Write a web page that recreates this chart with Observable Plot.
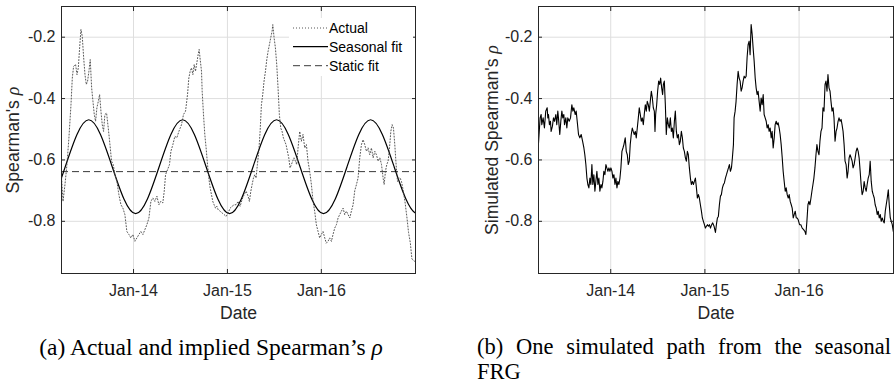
<!DOCTYPE html>
<html><head><meta charset="utf-8">
<script src="https://cdn.jsdelivr.net/npm/d3@7"></script>
<script src="https://cdn.jsdelivr.net/npm/@observablehq/plot@0.6"></script>
<style>
html,body{margin:0;padding:0;background:#fff;overflow:hidden;}
#wrap{position:relative;width:894px;height:384px;overflow:hidden;font-family:"Liberation Sans",Arial,sans-serif;}
.panel{position:absolute;top:0;}
.cap{position:absolute;font-family:"Liberation Serif",serif;font-size:23.5px;line-height:26px;color:#000;white-space:nowrap;}
.legend{position:absolute;background:#fff;}
</style></head><body><div id="wrap"></div>
<script>
// ---------- data ----------
const xTickYears = [2014, 2015, 2016];
const xTickLabels = ["Jan-14", "Jan-15", "Jan-16"];
const yTicks = [-0.8, -0.6, -0.4, -0.2];
const yTickLabels = ["-0.8", "-0.6", "-0.4", "-0.2"];
const xDomainYears = [2013.233, 2017.0];
const yDomain = [-0.97, -0.1];
const xAxisTitle = "Date";
const yTitleLeft = "Spearman's ρ";
const yTitleRight = "Simulated Spearman's ρ";
const legendLabels = ["Actual", "Seasonal fit", "Static fit"];

const staticFit = -0.638;

const seasonalYears = [2012.773, 2013.023, 2013.273, 2013.523, 2013.773, 2014.023, 2014.273, 2014.523, 2014.773, 2015.023, 2015.273, 2015.523, 2015.773, 2016.023, 2016.273, 2016.523, 2016.773, 2017.023, 2017.273];
const seasonalValues = [-0.622, -0.775, -0.622, -0.469, -0.622, -0.775, -0.622, -0.469, -0.622, -0.775, -0.622, -0.469, -0.622, -0.775, -0.622, -0.469, -0.622, -0.775, -0.622];

const actualYears = [
2013.234,2013.249,2013.270,2013.291,2013.312,2013.334,2013.348,2013.362,2013.383,2013.398,2013.412,2013.426,2013.440,2013.454,2013.469,2013.483,2013.497,2013.511,2013.525,2013.539,2013.554,2013.568,2013.582,2013.596,2013.610,2013.625,2013.639,2013.653,2013.667,2013.681,2013.695,2013.713,2013.731,2013.749,2013.766,2013.784,2013.802,2013.823,2013.844,2013.866,2013.887,2013.908,2013.929,2013.951,2013.972,2013.993,2014.015,2014.036,2014.057,2014.078,2014.100,2014.121,2014.142,2014.164,2014.185,2014.206,2014.227,2014.249,2014.270,2014.291,2014.312,2014.327,2014.341,2014.362,2014.383,2014.398,2014.419,2014.440,2014.461,2014.483,
2014.511,2014.532,2014.554,2014.575,2014.589,2014.603,2014.617,2014.632,2014.646,2014.660,2014.674,2014.688,2014.699,2014.710,2014.724,2014.731,2014.745,2014.759,2014.773,2014.788,2014.802,2014.816,2014.830,2014.844,2014.858,2014.873,2014.887,2014.901,2014.922,2014.944,2014.965,2014.986,2015.007,2015.029,2015.050,2015.071,2015.092,2015.114,2015.135,2015.156,2015.178,2015.199,2015.220,2015.234,2015.249,2015.263,2015.277,2015.291,2015.305,2015.319,2015.334,2015.348,2015.362,2015.376,2015.390,2015.405,2015.419,2015.433,2015.447,2015.461,2015.476,2015.483,2015.497,2015.511,2015.525,2015.539,2015.553,2015.568,2015.582,2015.596,2015.610,2015.624,2015.639,2015.653,2015.667,2015.681,2015.695,2015.709,2015.724,2015.738,2015.752,
2015.770,2015.787,2015.805,2015.823,2015.841,2015.858,2015.876,2015.894,2015.912,2015.929,2015.947,2015.965,2015.982,2016.000,2016.018,2016.036,2016.053,2016.071,2016.089,2016.107,2016.124,2016.142,2016.160,2016.178,2016.195,2016.213,2016.231,2016.248,2016.266,2016.284,2016.302,2016.319,2016.337,2016.355,2016.373,2016.390,2016.408,2016.426,2016.443,2016.461,2016.479,2016.497,2016.514,2016.532,2016.550,2016.568,2016.585,2016.603,2016.621,2016.639,2016.656,2016.667,2016.681,2016.695,2016.709,2016.724,2016.738,2016.752,2016.766,2016.780,2016.794,2016.809,2016.823,2016.837,2016.851,2016.870,2016.890,2016.910,2016.926,2016.945,2016.962,2016.990];
const actualValues = [
-0.659,-0.735,-0.680,-0.615,-0.528,-0.420,-0.333,-0.295,-0.289,-0.322,-0.300,-0.235,-0.175,-0.197,-0.267,-0.322,-0.354,-0.343,-0.311,-0.273,-0.365,-0.409,-0.452,-0.474,-0.430,-0.409,-0.387,-0.441,-0.485,-0.507,-0.452,-0.447,-0.496,-0.550,-0.604,-0.615,-0.648,-0.670,-0.713,-0.746,-0.757,-0.778,-0.833,-0.843,-0.854,-0.843,-0.865,-0.854,-0.843,-0.833,-0.843,-0.827,-0.811,-0.789,-0.735,-0.724,-0.735,-0.718,-0.746,-0.735,-0.740,-0.702,-0.648,-0.632,-0.615,-0.572,-0.550,-0.523,-0.528,-0.507,
-0.485,-0.452,-0.441,-0.387,-0.333,-0.311,-0.300,-0.322,-0.289,-0.311,-0.284,-0.257,-0.240,-0.273,-0.311,-0.376,-0.452,-0.517,-0.561,-0.615,-0.659,-0.691,-0.713,-0.735,-0.746,-0.757,-0.751,-0.762,-0.767,-0.773,-0.778,-0.784,-0.773,-0.757,-0.751,-0.746,-0.746,-0.735,-0.751,-0.729,-0.713,-0.702,-0.718,-0.735,-0.702,-0.680,-0.659,-0.648,-0.659,-0.615,-0.572,-0.507,-0.420,-0.387,-0.343,-0.311,-0.273,-0.246,-0.224,-0.202,-0.180,-0.159,-0.202,-0.235,-0.289,-0.365,-0.452,-0.496,-0.507,-0.528,-0.539,-0.550,-0.572,-0.593,-0.626,-0.615,-0.604,-0.593,-0.604,-0.615,-0.561,
-0.507,-0.539,-0.517,-0.561,-0.550,-0.604,-0.637,-0.680,-0.735,-0.767,-0.811,-0.833,-0.854,-0.843,-0.833,-0.854,-0.871,-0.865,-0.854,-0.865,-0.843,-0.822,-0.811,-0.789,-0.778,-0.767,-0.757,-0.778,-0.767,-0.778,-0.789,-0.767,-0.746,-0.700,-0.680,-0.659,-0.593,-0.550,-0.534,-0.550,-0.572,-0.561,-0.583,-0.561,-0.593,-0.572,-0.583,-0.604,-0.593,-0.615,-0.659,-0.680,-0.637,-0.615,-0.604,-0.561,-0.507,-0.485,-0.496,-0.550,-0.615,-0.670,-0.659,-0.659,-0.670,-0.700,-0.740,-0.790,-0.836,-0.870,-0.923,-0.930];

const simYears = [
2013.232,2013.250,2013.261,2013.268,2013.282,2013.296,2013.310,2013.325,2013.332,2013.339,2013.349,2013.360,2013.367,2013.381,2013.392,2013.403,2013.417,2013.427,2013.438,2013.445,2013.459,2013.470,2013.481,2013.491,2013.502,2013.509,2013.523,2013.534,2013.544,2013.559,2013.573,2013.587,2013.598,2013.608,2013.623,2013.633,2013.644,2013.658,2013.672,2013.686,2013.701,2013.715,2013.725,2013.736,2013.747,2013.757,2013.768,2013.779,2013.789,2013.800,2013.810,2013.821,2013.832,2013.842,2013.853,2013.864,2013.874,2013.885,2013.896,2013.906,2013.917,2013.927,2013.938,2013.949,2013.959,2013.970,2013.981,2013.991,2014.002,2014.013,2014.023,2014.034,2014.045,2014.055,2014.066,2014.076,2014.087,2014.098,2014.108,2014.119,2014.130,2014.140,
2014.154,2014.165,2014.176,2014.186,2014.197,2014.207,2014.218,2014.229,2014.239,2014.250,2014.261,2014.271,2014.282,2014.293,2014.303,2014.314,2014.324,2014.335,2014.346,2014.356,2014.367,2014.378,2014.388,2014.399,2014.410,2014.420,2014.431,2014.442,2014.452,2014.463,2014.470,2014.477,2014.488,2014.498,2014.509,2014.520,2014.530,2014.541,2014.551,2014.559,2014.569,2014.580,2014.590,2014.601,2014.612,2014.622,2014.633,2014.644,2014.654,2014.665,2014.676,2014.686,2014.697,2014.707,2014.718,2014.729,2014.739,2014.750,2014.761,2014.771,2014.782,2014.793,2014.803,2014.814,2014.824,2014.835,2014.846,2014.856,2014.867,2014.878,2014.888,2014.899,2014.910,2014.920,2014.931,2014.941,2014.952,2014.963,2014.973,2014.984,2014.995,2015.005,2015.016,2015.027,2015.037,2015.048,2015.059,2015.069,
2015.083,2015.097,2015.112,2015.122,2015.133,2015.143,2015.154,2015.165,2015.175,2015.186,2015.197,2015.207,2015.218,2015.229,2015.239,2015.250,2015.260,2015.271,2015.282,2015.292,2015.303,2015.310,2015.321,2015.331,2015.342,2015.353,2015.363,2015.374,2015.385,2015.395,2015.406,2015.417,2015.427,2015.438,2015.448,2015.459,2015.470,2015.480,2015.491,2015.502,2015.512,2015.523,2015.534,2015.544,2015.555,2015.565,2015.576,2015.587,2015.597,2015.608,2015.619,2015.629,2015.640,2015.651,2015.661,2015.672,2015.682,2015.693,2015.704,2015.714,2015.725,2015.736,2015.746,2015.757,2015.768,2015.778,2015.789,2015.799,2015.810,2015.821,2015.831,2015.842,2015.853,2015.863,2015.874,2015.885,2015.895,2015.906,2015.917,2015.927,2015.938,2015.948,2015.959,2015.970,2015.980,2015.991,2016.005,
2016.019,2016.033,2016.048,2016.062,2016.072,2016.083,2016.094,2016.104,2016.115,2016.126,2016.136,2016.147,2016.157,2016.168,2016.179,2016.189,2016.200,2016.211,2016.221,2016.232,2016.243,2016.253,2016.264,2016.275,2016.285,2016.296,2016.306,2016.317,2016.328,2016.338,2016.349,2016.360,2016.370,2016.381,2016.392,2016.402,2016.413,2016.423,2016.434,2016.445,2016.455,2016.466,2016.477,2016.487,2016.498,2016.509,2016.519,2016.530,2016.540,2016.551,2016.562,2016.572,2016.583,2016.594,2016.604,2016.615,2016.626,2016.636,2016.647,2016.657,2016.668,2016.679,2016.689,2016.700,2016.711,2016.721,2016.732,2016.743,2016.753,2016.764,2016.775,2016.785,2016.796,2016.806,2016.817,2016.828,2016.838,2016.849,2016.860,2016.870,2016.881,2016.892,2016.902,2016.913,2016.923,2016.934,2016.945,2016.955,2016.966,2016.977,2016.987,2016.998];
const simValues = [
-0.550,-0.463,-0.452,-0.485,-0.463,-0.496,-0.441,-0.430,-0.463,-0.452,-0.485,-0.474,-0.507,-0.490,-0.463,-0.474,-0.452,-0.485,-0.441,-0.463,-0.517,-0.474,-0.441,-0.463,-0.452,-0.485,-0.463,-0.496,-0.463,-0.474,-0.463,-0.420,-0.441,-0.430,-0.452,-0.441,-0.474,-0.517,-0.528,-0.517,-0.539,-0.561,-0.583,-0.615,-0.659,-0.680,-0.691,-0.659,-0.680,-0.615,-0.680,-0.648,-0.702,-0.670,-0.637,-0.680,-0.659,-0.702,-0.680,-0.691,-0.670,-0.637,-0.648,-0.615,-0.626,-0.637,-0.626,-0.637,-0.626,-0.637,-0.659,-0.648,-0.680,-0.659,-0.691,-0.670,-0.680,-0.659,-0.626,-0.572,-0.561,-0.550,
-0.528,-0.572,-0.583,-0.615,-0.604,-0.550,-0.517,-0.496,-0.507,-0.517,-0.507,-0.528,-0.496,-0.463,-0.430,-0.452,-0.474,-0.463,-0.485,-0.452,-0.420,-0.441,-0.409,-0.420,-0.441,-0.409,-0.376,-0.398,-0.430,-0.441,-0.507,-0.452,-0.420,-0.376,-0.343,-0.354,-0.333,-0.365,-0.387,-0.354,-0.343,-0.420,-0.517,-0.463,-0.485,-0.496,-0.463,-0.507,-0.496,-0.528,-0.474,-0.441,-0.507,-0.528,-0.517,-0.550,-0.539,-0.507,-0.528,-0.561,-0.572,-0.593,-0.604,-0.572,-0.583,-0.626,-0.659,-0.680,-0.670,-0.680,-0.670,-0.659,-0.691,-0.724,-0.713,-0.724,-0.746,-0.767,-0.789,-0.800,-0.811,-0.822,-0.816,-0.811,-0.816,-0.811,-0.822,-0.813,
-0.805,-0.816,-0.836,-0.811,-0.789,-0.784,-0.746,-0.718,-0.713,-0.691,-0.680,-0.675,-0.659,-0.648,-0.637,-0.626,-0.615,-0.637,-0.626,-0.593,-0.550,-0.463,-0.441,-0.409,-0.354,-0.311,-0.333,-0.343,-0.376,-0.365,-0.343,-0.327,-0.333,-0.327,-0.267,-0.224,-0.213,-0.257,-0.159,-0.191,-0.235,-0.278,-0.333,-0.365,-0.387,-0.376,-0.409,-0.441,-0.398,-0.420,-0.387,-0.452,-0.463,-0.474,-0.496,-0.485,-0.507,-0.496,-0.528,-0.507,-0.561,-0.528,-0.485,-0.474,-0.485,-0.479,-0.496,-0.517,-0.550,-0.593,-0.637,-0.670,-0.702,-0.691,-0.713,-0.724,-0.713,-0.735,-0.746,-0.757,-0.789,-0.778,-0.767,-0.789,-0.789,-0.795,-0.811,
-0.811,-0.822,-0.827,-0.833,-0.843,-0.800,-0.746,-0.735,-0.746,-0.724,-0.702,-0.680,-0.659,-0.626,-0.583,-0.550,-0.572,-0.583,-0.539,-0.507,-0.496,-0.430,-0.441,-0.354,-0.343,-0.376,-0.322,-0.365,-0.376,-0.409,-0.441,-0.430,-0.463,-0.539,-0.507,-0.496,-0.474,-0.463,-0.474,-0.468,-0.485,-0.507,-0.550,-0.604,-0.615,-0.659,-0.637,-0.593,-0.583,-0.593,-0.604,-0.626,-0.615,-0.593,-0.572,-0.561,-0.572,-0.593,-0.637,-0.680,-0.713,-0.702,-0.670,-0.691,-0.702,-0.680,-0.659,-0.648,-0.604,-0.670,-0.702,-0.713,-0.724,-0.746,-0.757,-0.778,-0.767,-0.789,-0.778,-0.800,-0.789,-0.800,-0.805,-0.767,-0.746,-0.724,-0.697,-0.746,-0.789,-0.800,-0.811,-0.833];

// ---------- helpers ----------
function toDate(t) {
  const y = Math.floor(t);
  const a = Date.UTC(y, 0, 1), b = Date.UTC(y + 1, 0, 1);
  return new Date(a + (t - y) * (b - a));
}
const xTicks = xTickYears.map(y => new Date(Date.UTC(y, 0, 1)));
const xLabelMap = new Map(xTicks.map((d, i) => [+d, xTickLabels[i]]));
const yLabelMap = new Map(yTicks.map((v, i) => [v, yTickLabels[i]]));
const series = (ts, vs) => ts.map((t, i) => ({date: toDate(t), value: vs[i]}));
const seasonalData = series(seasonalYears, seasonalValues);
const actualData = series(actualYears, actualValues);
const simData = series(simYears, simValues);

const INK = "#262626";
const GRID = "#dedede";

function makePanel({width, marginLeft, marginRight, yTitle, yTitleDx, lines}) {
  const svg = Plot.plot({
    width, height: 330,
    marginLeft, marginRight, marginTop: 6, marginBottom: 57,
    style: {fontFamily: "'Liberation Sans', Arial, sans-serif", fontSize: "16px", color: INK, background: "transparent", overflow: "visible"},
    x: {type: "utc", domain: xDomainYears.map(toDate)},
    y: {domain: yDomain},
    marks: [
      Plot.gridX(xTicks, {stroke: GRID, strokeOpacity: 1}),
      Plot.gridY(yTicks, {stroke: GRID, strokeOpacity: 1}),
      ...lines,
      Plot.frame({stroke: INK}),
      Plot.axisX(xTicks, {anchor: "bottom", tickSize: 0, tickPadding: 11, tickFormat: d => xLabelMap.get(+d), label: null, fill: INK}),
      Plot.axisX(xTicks, {anchor: "bottom", tickSize: 4, dy: -4, tickFormat: () => "", label: null, stroke: INK}),
      Plot.axisX(xTicks, {anchor: "top", tickSize: 4, dy: 4, tickFormat: () => "", label: null, stroke: INK}),
      Plot.axisY(yTicks, {anchor: "left", tickSize: 0, tickPadding: 6, tickFormat: d => yLabelMap.get(d), label: null, fill: INK}),
      Plot.axisY(yTicks, {anchor: "left", tickSize: 4, dx: 4, tickFormat: () => "", label: null, stroke: INK}),
      Plot.axisY(yTicks, {anchor: "right", tickSize: 4, dx: -4, tickFormat: () => "", label: null, stroke: INK}),
      Plot.text([xAxisTitle], {text: d => d, frameAnchor: "bottom", lineAnchor: "top", textAnchor: "middle", dy: 33, fontSize: 17.6, fill: INK}),
      Plot.text([yTitle], {text: d => d, frameAnchor: "left", lineAnchor: "middle", textAnchor: "middle", rotate: -90, dx: yTitleDx, fontSize: 17.6, fill: INK})
    ]
  });
  // italic rho in axis title
  d3.select(svg).selectAll("text").each(function () {
    const s = this.textContent;
    if (s === yTitle) {
      this.textContent = s.slice(0, -1);
      d3.select(this).append("tspan").attr("font-family", "'Liberation Serif', serif").attr("font-style", "italic").attr("font-size", 18).text("ρ");
    }
  });
  return svg;
}

const wrap = document.getElementById("wrap");

// Left panel
const left = makePanel({
  width: 450, marginLeft: 61, marginRight: 35, yTitle: yTitleLeft, yTitleDx: -48,
  lines: [
    Plot.ruleY([staticFit], {stroke: "#3a3a3a", strokeWidth: 1, strokeDasharray: "7,4"}),
    Plot.line(seasonalData, {x: "date", y: "value", curve: "natural", stroke: "#000", strokeWidth: 1.2, clip: true}),
    Plot.line(actualData, {x: "date", y: "value", stroke: "#444", strokeWidth: 0.9, strokeDasharray: "1,2", clip: true})
  ]
});
left.classList.add("panel"); left.style.left = "0px";
wrap.appendChild(left);

// Right panel
const right = makePanel({
  width: 444, marginLeft: 88, marginRight: 1, yTitle: yTitleRight, yTitleDx: -46,
  lines: [
    Plot.line(simData, {x: "date", y: "value", stroke: "#000", strokeWidth: 1.1, clip: true})
  ]
});
right.classList.add("panel"); right.style.left = "450px";
wrap.appendChild(right);

// Legend (left panel, top-right inside)
const leg = document.createElement("div");
leg.className = "legend";
leg.style.left = "289px"; leg.style.top = "18px"; leg.style.width = "124px"; leg.style.height = "58px";
const styles = [
  {dash: "1,2", w: 0.9, c: "#444"},
  {dash: null, w: 1.2, c: "#000"},
  {dash: "7,4", w: 1, c: "#3a3a3a"}
];
const rowY = [10, 28.7, 47.7];
const lsvg = d3.create("svg").attr("width", 124).attr("height", 58)
  .style("font-family", "'Liberation Sans', Arial, sans-serif").style("font-size", "14px");
legendLabels.forEach((lab, i) => {
  const ln = lsvg.append("line").attr("x1", 4).attr("x2", 39).attr("y1", rowY[i]).attr("y2", rowY[i])
    .attr("stroke", styles[i].c).attr("stroke-width", styles[i].w);
  if (styles[i].dash) ln.attr("stroke-dasharray", styles[i].dash);
  lsvg.append("text").attr("x", 40).attr("y", rowY[i]).attr("dy", "0.35em").attr("fill", "#000").text(lab);
});
leg.appendChild(lsvg.node());
wrap.appendChild(leg);

// Captions
const capA = document.createElement("div");
capA.className = "cap";
capA.style.left = "0px"; capA.style.width = "422px"; capA.style.top = "334px"; capA.style.textAlign = "center";
capA.innerHTML = "(a) Actual and implied Spearman’s <i>ρ</i>";
wrap.appendChild(capA);

const capB = document.createElement("div");
capB.className = "cap";
capB.style.left = "477px"; capB.style.width = "414px"; capB.style.top = "333.5px";
capB.style.whiteSpace = "normal"; capB.style.fontSize = "22.5px"; capB.style.lineHeight = "25px";
capB.innerHTML = '<div style="text-align:justify;text-align-last:justify;white-space:nowrap">(b) One simulated path from the seasonal</div>' +
  '<div>FRG</div>';
wrap.appendChild(capB);
</script></body></html>
